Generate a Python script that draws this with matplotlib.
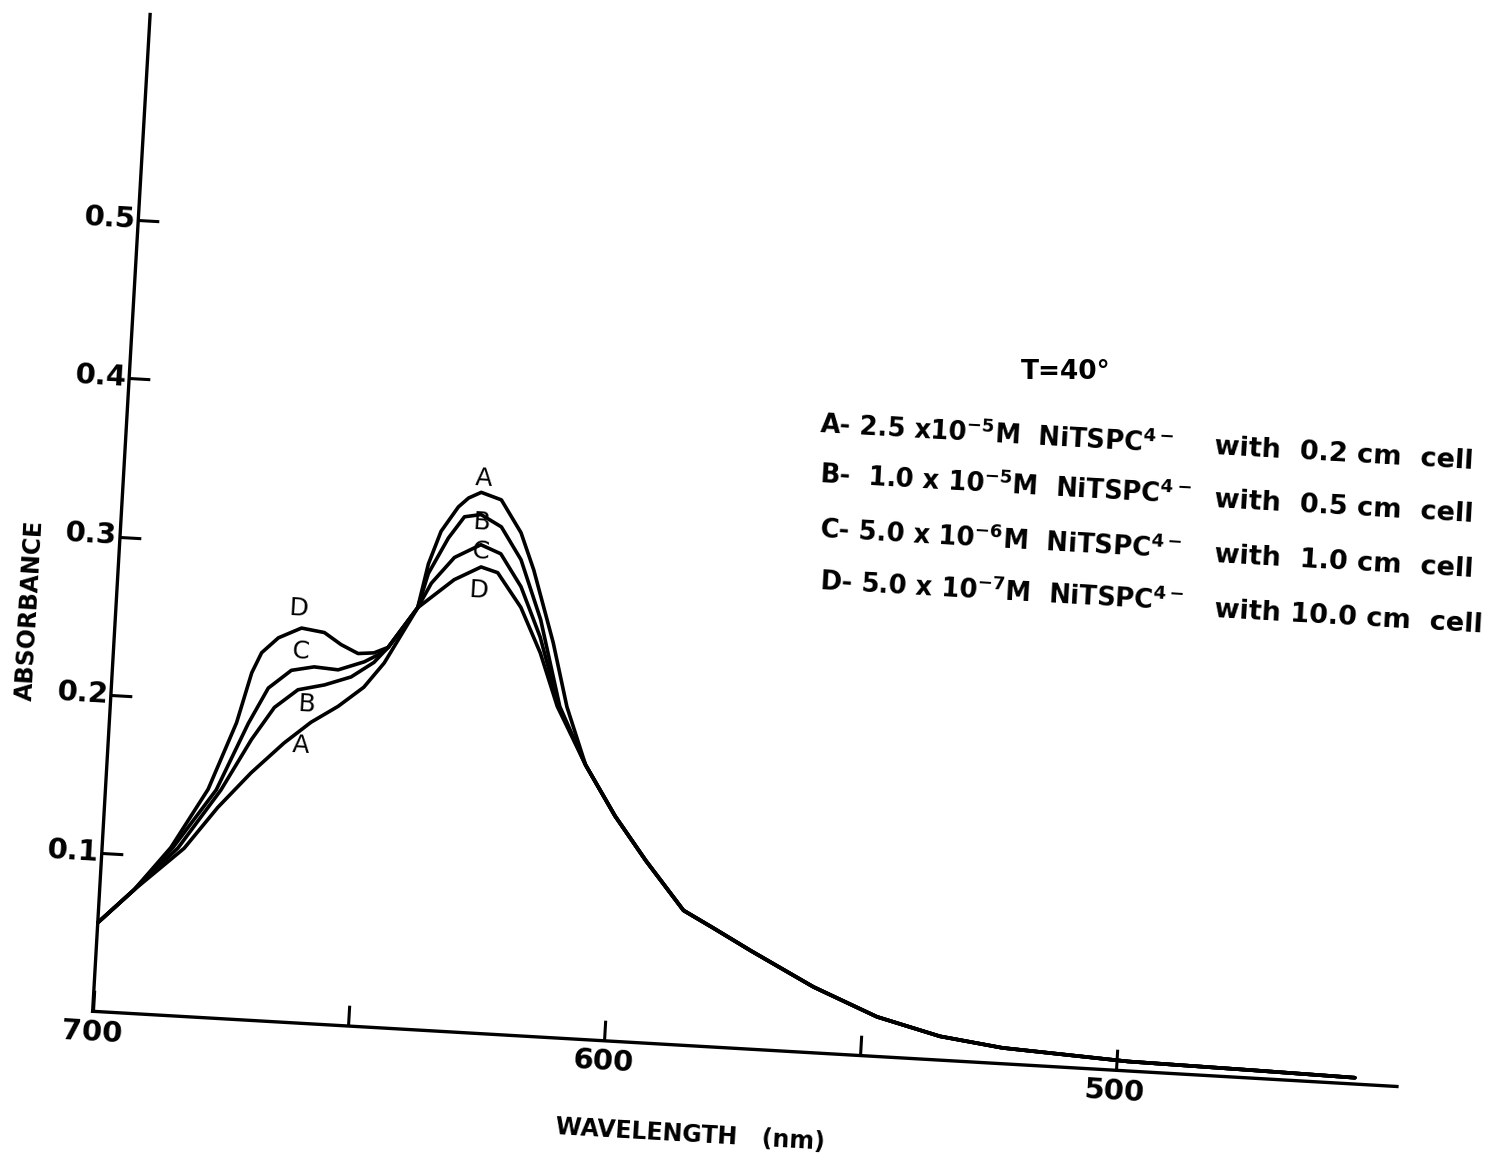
import matplotlib
matplotlib.use("Agg")
import matplotlib.pyplot as plt
from matplotlib.transforms import Affine2D
import mpl_toolkits.axisartist.floating_axes as floating_axes
from mpl_toolkits.axisartist.grid_finder import FixedLocator, DictFormatter

plt.rcParams['font.family'] = ['DejaVu Sans']
plt.rcParams['mathtext.default'] = 'bf'

# all four spectra lie on top of each other below ~610 nm
tail_wl = [606.7, 600.4, 593.9, 586.0, 580.0, 572.4, 559.8, 547.1, 534.6, 522.3, 497.7, 473.2, 453.3]
tail_abs = [0.173, 0.142, 0.115, 0.085, 0.075, 0.062, 0.0415, 0.025, 0.015, 0.010, 0.006, 0.005, 0.004]

wl_A = [700.0, 693.3, 684.0, 677.9, 671.8, 665.7, 660.7, 655.6, 650.8, 647.1, 641.2, 639.6, 637.5,
        634.4, 632.5, 630.1, 626.1, 621.9, 619.0, 614.4, 611.0] + tail_wl
abs_A = [0.056, 0.078, 0.106, 0.133, 0.156, 0.176, 0.190, 0.201, 0.214, 0.230, 0.266, 0.294, 0.315,
         0.331, 0.337, 0.341, 0.337, 0.317, 0.294, 0.249, 0.209] + tail_abs

wl_B = [700.0, 693.3, 685.2, 677.5, 672.1, 668.0, 663.6, 658.5, 653.4, 649.1, 646.5, 641.2, 639.5,
        636.0, 633.1, 629.9, 625.8, 621.6, 617.1, 612.4] + tail_wl
abs_B = [0.056, 0.078, 0.106, 0.144, 0.177, 0.198, 0.210, 0.214, 0.220, 0.230, 0.240, 0.266, 0.288,
         0.311, 0.325, 0.327, 0.320, 0.300, 0.263, 0.209] + tail_abs

wl_C = [700.0, 693.3, 686.2, 678.4, 672.9, 669.4, 665.1, 660.7, 656.0, 651.0, 647.8, 646.5, 641.2,
        638.8, 634.6, 629.6, 625.6, 621.3, 617.0, 612.6] + tail_wl
abs_C = [0.056, 0.078, 0.106, 0.144, 0.187, 0.210, 0.222, 0.225, 0.224, 0.230, 0.236, 0.240, 0.266,
         0.282, 0.299, 0.308, 0.303, 0.283, 0.252, 0.209] + tail_abs

wl_D = [700.0, 693.3, 686.6, 680.0, 675.2, 672.8, 671.1, 668.0, 663.6, 659.1, 655.7, 652.3, 649.2,
        646.5, 641.2, 638.7, 634.4, 629.3, 626.0, 621.1, 616.8, 612.9] + tail_wl
abs_D = [0.056, 0.078, 0.106, 0.144, 0.187, 0.219, 0.232, 0.242, 0.249, 0.247, 0.240, 0.235, 0.236,
         0.240, 0.266, 0.273, 0.285, 0.294, 0.291, 0.270, 0.242, 0.209] + tail_abs

# curve letters: (wavelength, absorbance) where they are written
peak_labels = {'A': (629.8, 0.350), 'B': (629.8, 0.322), 'C': (629.5, 0.304), 'D': (629.5, 0.279)}
shoulder_labels = {'D': (664.4, 0.261), 'C': (663.4, 0.234), 'B': (661.8, 0.201), 'A': (662.4, 0.175)}

x_ticks = [700, 650, 600, 550, 500]
x_ticklabels = {700: '700', 650: '', 600: '600', 550: '', 500: '500'}
y_ticks = [0.1, 0.2, 0.3, 0.4, 0.5]
y_ticklabels = {0.1: '0.1', 0.2: '0.2', 0.3: '0.3', 0.4: '0.4', 0.5: '0.5'}

legend_left = [r'A- 2.5 x10$^{-5}$M  NiTSPC$^{4-}$',
               r'B-  1.0 x 10$^{-5}$M  NiTSPC$^{4-}$',
               r'C- 5.0 x 10$^{-6}$M  NiTSPC$^{4-}$',
               r'D- 5.0 x 10$^{-7}$M  NiTSPC$^{4-}$']
legend_right = ['with  0.2 cm  cell', 'with  0.5 cm  cell',
                'with  1.0 cm  cell', 'with 10.0 cm  cell']

tilt = -3.3
fig = plt.figure(figsize=(14.91, 11.61), dpi=100)

# the scanned plot is slightly rotated, so use a rotated (floating) axes
tr = Affine2D().scale(-5.14, 1590).rotate_deg(tilt)
grid_helper = floating_axes.GridHelperCurveLinear(
    tr, extremes=(445, 700, 0, 0.63),
    grid_locator1=FixedLocator(x_ticks), tick_formatter1=DictFormatter(x_ticklabels),
    grid_locator2=FixedLocator(y_ticks), tick_formatter2=DictFormatter(y_ticklabels))
ax = fig.add_axes([0.053, 0.0547, 0.9316, 0.9423],
                  axes_class=floating_axes.FloatingAxes, grid_helper=grid_helper)
aux = ax.get_aux_axes(tr)

ax.axis['left'].set_visible(False)
ax.axis['top'].set_visible(False)
for name, direction in [('right', 'left'), ('bottom', 'top')]:
    axis = ax.axis[name]
    axis.set_axis_direction(direction)
    axis.line.set_linewidth(2.4)
    axis.major_ticks.set_ticksize(15)
    axis.major_ticks.set_markeredgewidth(2.2)
    axis.major_ticklabels.set_visible(True)
    axis.major_ticklabels.set_fontsize(21)
    axis.major_ticklabels.set_fontweight('bold')
    axis.major_ticklabels.set_pad(2)
# wavelength runs right-to-left in the transform, keep its numbers upright
ax.axis['bottom'].major_ticklabels.set_axis_direction('bottom')
ax.axis['bottom'].major_ticklabels.set_pad(6)
ax.axis['right'].major_ticklabels.set_axis_direction('left')

for wl, ab in [(wl_A, abs_A), (wl_B, abs_B), (wl_C, abs_C), (wl_D, abs_D)]:
    aux.plot(wl, ab, color='black', lw=2.6, solid_joinstyle='round', solid_capstyle='round')

for letter, (x, y) in list(peak_labels.items()) + list(shoulder_labels.items()):
    aux.text(x, y, letter, fontsize=18, ha='center', va='center', rotation=tilt)

fig.text(30 / 1491, 1 - 610 / 1161, 'ABSORBANCE', rotation=90 + tilt, fontsize=17,
         fontweight='bold', ha='center', va='center')
fig.text(690 / 1491, 1 - 1135 / 1161, 'WAVELENGTH   (nm)', rotation=tilt, fontsize=17,
         fontweight='bold', ha='center', va='center')

fig.text(1066 / 1491, 1 - 372 / 1161, 'T=40°', fontsize=19, fontweight='bold',
         ha='center', va='center')
left_y = [425, 475, 530, 582]
right_y = [447, 500, 555, 610]
for i in range(4):
    fig.text(820 / 1491, 1 - left_y[i] / 1161, legend_left[i], fontsize=18.5, fontweight='bold',
             ha='left', va='center', rotation=tilt, rotation_mode='anchor')
    fig.text(1214 / 1491, 1 - right_y[i] / 1161, legend_right[i], fontsize=19.5, fontweight='bold',
             ha='left', va='center', rotation=tilt, rotation_mode='anchor')

fig.savefig('out.png', dpi=100)
